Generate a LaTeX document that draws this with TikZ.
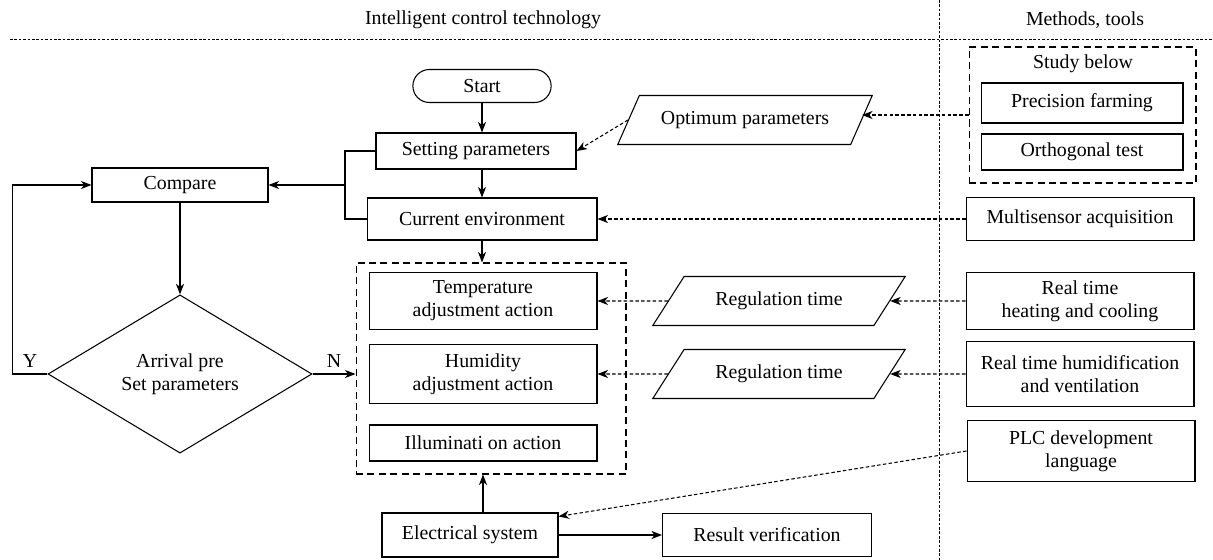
\documentclass[tikz,border=0pt]{standalone}
\usepackage{fontspec}
\setmainfont{Liberation Serif}
\usetikzlibrary{arrows.meta, positioning, shapes.geometric, shapes.misc}

\begin{document}
\begin{tikzpicture}[
    x=0.02cm, y=-0.02cm,
    >={Stealth[length=6pt, width=4.6pt, inset=1.8pt]},
    line width=0.6pt,
    font=\fontsize{11.3}{13}\selectfont,
    box/.style={draw, rectangle, inner sep=1pt, align=center},
    group/.style={draw, rectangle, dash pattern=on 4pt off 2.5pt},
    para/.style={draw, trapezium, trapezium stretches=true, inner sep=1pt, align=center,
        minimum width=5.1cm, minimum height=0.98cm},
    dep/.style={->, dash pattern=on 2pt off 1.3pt},
    sep/.style={line width=0.5pt, dash pattern=on 1.5pt off 1pt}
]
    \useasboundingbox (0,0) rectangle (1213,560);

    % Header
    \node (head1) at (483,20) {Intelligent control technology};
    \node (head2) at (1085,20) {Methods, tools};
    \draw[sep] (10,39) -- (1213,39);
    \draw[sep] (939,0) -- (939,560);

    % Main flow
    \node[draw, rounded rectangle, minimum width=3cm, minimum height=0.66cm] (start) at (482,86) {Start};
    \node[box, minimum width=4cm, minimum height=0.72cm] (setp) at (476,151) {Setting parameters};
    \node[box, minimum width=4.6cm, minimum height=0.84cm] (cur) at (482,219) {Current environment};
    \draw[->] (start.south) -- (start.south |- setp.north);
    \draw[->] (setp.south -| cur.north) -- (cur.north);

    \node[box, minimum width=3.52cm, minimum height=0.68cm] (cmp) at (180,185) {Compare};
    \coordinate (brk) at (345,185);
    \draw (setp.west) -| (brk) |- (cur.west);
    \draw[->] (brk) -- (cmp.east);

    \node[draw, diamond, inner sep=0pt, align=center, minimum width=5.28cm, minimum height=2.1cm] (dec) at (180,374) {Arrival pre\\Set parameters};
    \draw[->] (cmp.south) -- (dec.north);
    \draw[->] (dec.west) -- ++(-35,0) node[midway, above] {Y} |- (cmp.west);

    % Adjustment actions
    \node[group, minimum width=5.4cm, minimum height=4.22cm] (grp) at (491,368.5) {};
    \node[box, minimum width=4.56cm, minimum height=1.14cm] (temp) at (483,301) {Temperature\\adjustment action};
    \node[box, minimum width=4.56cm, minimum height=1.18cm] (humid) at (483,374) {Humidity\\adjustment action};
    \node[box, minimum width=4.56cm, minimum height=0.72cm] (illum) at (483,443) {Illuminati on action};
    \draw[->] (cur.south) -- (cur.south |- grp.north);
    \draw[->] (dec.east) -- (dec.east -| grp.west) node[midway, above] {N};

    \node[box, minimum width=3.52cm, minimum height=0.88cm] (elec) at (470,535) {Electrical system};
    \node[box, minimum width=4.18cm, minimum height=0.86cm] (res) at (767,535) {Result verification};
    \draw[->] (elec.north -| temp.south) -- (temp.south |- grp.south);
    \draw[->] (elec.east) -- (res.west);

    % Intermediate parameters
    \node[para, trapezium left angle=50, trapezium right angle=130] (opt) at (745,120) {Optimum parameters};
    \node[para, trapezium left angle=45, trapezium right angle=135] (reg1) at (779,301) {Regulation time};
    \node[para, trapezium left angle=45, trapezium right angle=135] (reg2) at (779,374) {Regulation time};

    % Methods, tools
    \node[group, minimum width=4.54cm, minimum height=2.72cm] (study) at (1082.5,115) {};
    \node (studylbl) at (1083,64) {Study below};
    \node[box, minimum width=4.04cm, minimum height=0.8cm] (prec) at (1082,103) {Precision farming};
    \node[box, minimum width=4.04cm, minimum height=0.72cm] (orth) at (1082,152) {Orthogonal test};
    \node[box, minimum width=4.56cm, minimum height=0.86cm] (multi) at (1080,219) {Multisensor acquisition};
    \node[box, minimum width=4.56cm, minimum height=1.14cm] (heat) at (1080,301) {Real time\\heating and cooling};
    \node[box, minimum width=4.56cm, minimum height=1.3cm] (humi) at (1080,374) {Real time humidification\\and ventilation};
    \node[box, minimum width=4.56cm, minimum height=1.22cm] (plc) at (1081,451) {PLC development\\language};

    % Dashed links
    \draw[dep] (study.west) -- (study.west -| opt.east);
    \draw[dep] (opt.west) -- (setp.east);
    \draw[dep] (multi.west) -- (cur.east);
    \draw[dep] (heat.west) -- (reg1.east);
    \draw[dep] (reg1.west) -- (temp.east);
    \draw[dep] (humi.west) -- (reg2.east);
    \draw[dep] (reg2.west) -- (humid.east);
    \draw[dep] (plc.west) -- ([yshift=-0.08cm]elec.north east);

\end{tikzpicture}
\end{document}
